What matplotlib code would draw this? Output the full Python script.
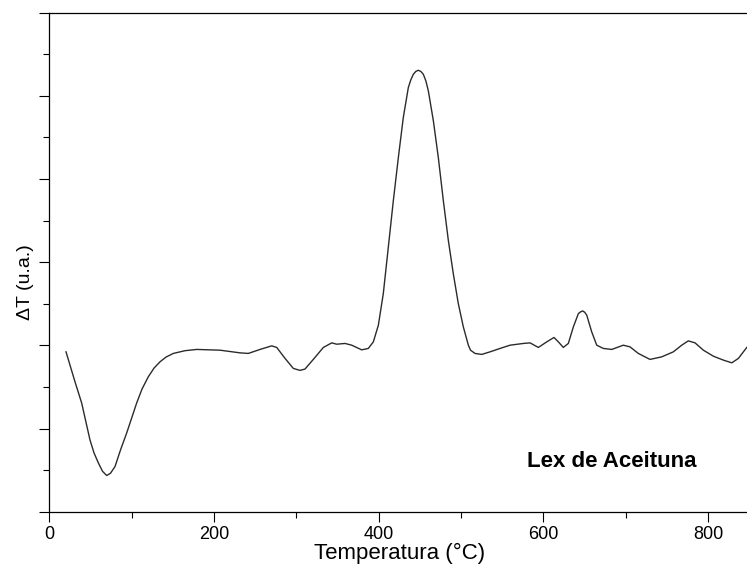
import matplotlib
matplotlib.use("Agg")
import matplotlib.pyplot as plt
from matplotlib.ticker import MultipleLocator

# DTA curve (temperature in °C, delta T in arbitrary units)
temperature = [
    20.3, 31.2, 39.3, 49.4, 54.3, 59.5, 64.6, 69.7, 74.3, 79.8,
    86.5, 94.0, 106.1, 112.6, 120.2, 127.2, 134.4, 141.7, 150.6, 164.8,
    179.0, 207.3, 231.6, 241.7, 255.9, 270.1, 276.2, 286.3, 296.3, 304.5,
    310.5, 320.6, 332.8, 343.0, 349.0, 359.1, 367.3, 379.4, 387.4, 393.5,
    399.6, 405.6, 411.7, 417.8, 423.9, 429.9, 436.0, 439.0, 442.1, 445.1,
    448.1, 451.2, 454.2, 457.3, 460.3, 466.4, 472.4, 478.5, 484.6, 490.6,
    496.7, 502.8, 508.9, 511.5, 517.0, 525.1, 535.2, 547.4, 559.5, 575.7,
    583.8, 593.9, 604.1, 612.9, 618.2, 624.2, 630.3, 636.4, 642.5, 645.2,
    647.8, 650.3, 652.7, 658.7, 664.8, 672.8, 683.0, 697.1, 705.2, 715.3,
    729.5, 743.7, 757.8, 768.0, 776.0, 784.2, 794.3, 806.4, 818.5, 828.8,
    836.8, 847.0,
]
delta_t = [
    0.922, 0.562, 0.307, -0.137, -0.293, -0.412, -0.514, -0.565, -0.538, -0.457,
    -0.257, -0.053, 0.307, 0.475, 0.622, 0.727, 0.802, 0.859, 0.903, 0.936,
    0.951, 0.942, 0.910, 0.903, 0.951, 0.994, 0.975, 0.843, 0.723, 0.699,
    0.715, 0.831, 0.975, 1.030, 1.014, 1.023, 1.002, 0.946, 0.963, 1.042,
    1.242, 1.622, 2.181, 2.741, 3.260, 3.740, 4.100, 4.192, 4.260, 4.294,
    4.308, 4.294, 4.260, 4.180, 4.060, 3.700, 3.260, 2.741, 2.261, 1.862,
    1.502, 1.222, 1.002, 0.942, 0.903, 0.891, 0.922, 0.963, 1.002, 1.023,
    1.030, 0.975, 1.042, 1.095, 1.042, 0.975, 1.023, 1.222, 1.382, 1.403,
    1.414, 1.397, 1.362, 1.162, 1.002, 0.963, 0.951, 1.002, 0.982, 0.903,
    0.831, 0.862, 0.922, 1.002, 1.054, 1.030, 0.942, 0.870, 0.823, 0.790,
    0.843, 0.975,
]

sample_label = "Lex de Aceituna"

plt.rcParams["font.family"] = ["Liberation Sans", "DejaVu Sans"]

fig = plt.figure(figsize=(7.47, 5.70), dpi=100)
ax = fig.add_axes([0.066, 0.1023, 0.937, 0.8754])

ax.plot(temperature, delta_t, color="#2b2b2b", linewidth=1.0,
        solid_joinstyle="round")

ax.set_xlim(0, 850)
ax.set_ylim(-1, 5)

ax.xaxis.set_major_locator(MultipleLocator(200))
ax.xaxis.set_minor_locator(MultipleLocator(100))
ax.yaxis.set_major_locator(MultipleLocator(1))
ax.yaxis.set_minor_locator(MultipleLocator(0.5))

ax.tick_params(which="major", direction="out", length=7.2, width=0.8,
               labelsize=13, pad=3)
ax.tick_params(which="minor", direction="out", length=4.3, width=0.8)
ax.tick_params(axis="y", which="both", labelleft=False)

for side in ("left", "bottom", "top"):
    ax.spines[side].set_linewidth(0.9)
ax.spines["right"].set_visible(False)

ax.set_xlabel("Temperatura (°C)", fontsize=16, labelpad=0)
ax.set_ylabel("ΔT (u.a.)", fontsize=14)
ax.yaxis.set_label_coords(-0.022, 0.46)

ax.text(579.8, -0.397, sample_label, fontsize=16, fontweight="bold",
        ha="left", va="center")

fig.savefig("out.png", dpi=100)
